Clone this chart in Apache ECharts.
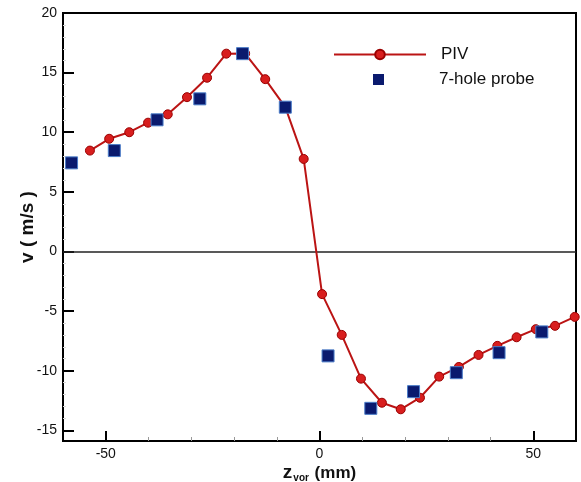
<!DOCTYPE html>
<html>
<head>
<meta charset="utf-8">
<script src="https://cdn.jsdelivr.net/npm/echarts@6/dist/echarts.min.js"></script>
<style>
  html, body { margin: 0; padding: 0; background: #fff; }
  #chart { width: 581px; height: 482px; }
</style>
</head>
<body>
<div id="chart"></div>
<script>
// PIV profile across the vortex (z in mm, v in m/s)
const pivZ = [-53.7, -49.2, -44.5, -40.1, -35.5, -31.0, -26.3, -21.8, -17.4, -12.7, -8.0, -3.7,
              0.6, 5.2, 9.7, 14.6, 19.0, 23.5, 28.0, 32.6, 37.2, 41.6, 46.1, 50.6, 55.1, 59.7];
const pivV = [8.46, 9.45, 10.0, 10.8, 11.5, 12.94, 14.57, 16.59, 16.6, 14.45, 12.1, 7.76,
              -3.58, -7.0, -10.67, -12.69, -13.24, -12.27, -10.5, -9.69, -8.68, -7.92, -7.2, -6.52, -6.24, -5.49];

// 7-hole probe measurements
const probeZ = [-58, -48, -38, -28, -18, -8, 2, 12, 22, 32, 42, 52];
const probeV = [7.43, 8.46, 11.04, 12.8, 16.59, 12.1, -8.76, -13.16, -11.76, -10.17, -8.49, -6.75];

// Tick positions
const xMajorTicks = [-50, 0, 50];
const xMinorTicks = [-40, -30, -20, -10, 10, 20, 30, 40];
const yMajorTicks = [-15, -10, -5, 0, 5, 10, 15, 20];
const yMinorTicks = [];
for (let v = -15; v <= 20; v++) { if (v % 5 !== 0) yMinorTicks.push(v); }

const FONT = "'Liberation Sans', Arial, Helvetica, sans-serif";
const PROBE_COLOR = '#0a1a6e';

const pivData = pivZ.map((z, i) => [z, pivV[i]]);
const probeData = probeZ.map((z, i) => [z, probeV[i]]);

const chart = echarts.init(document.getElementById('chart'), null, { renderer: 'canvas' });

const xBase = { type: 'value', min: -60, max: 60, gridIndex: 0, position: 'bottom', splitLine: { show: false } };
const yBase = { type: 'value', min: -15.9, max: 20, gridIndex: 0, position: 'left', splitLine: { show: false } };

chart.setOption({
  animation: false,
  backgroundColor: '#fff',
  textStyle: { fontFamily: FONT },
  grid: {
    left: 63, right: 5, top: 13, bottom: 41,
    outerBoundsMode: 'none',
    containLabel: false,
    show: true, borderColor: '#000', borderWidth: 2, backgroundColor: 'transparent'
  },
  legend: [
    {
      data: ['PIV'],
      left: 328, top: 41,
      itemWidth: 92, itemHeight: 12,
      selectedMode: false,
      textStyle: { fontFamily: FONT, fontSize: 17, color: '#111', padding: [0, 0, 0, 10] }
    },
    {
      data: [{ name: '7-hole probe', icon: 'rect', itemStyle: { color: PROBE_COLOR, borderWidth: 0 } }],
      left: 368, top: 66,
      itemWidth: 11, itemHeight: 11,
      selectedMode: false,
      textStyle: { fontFamily: FONT, fontSize: 17, color: '#111', padding: [0, 0, 0, 50] }
    }
  ],
  xAxis: [
    Object.assign({}, xBase, {
      name: '{z|z}{s|vor}{n| (mm)}',
      nameLocation: 'middle',
      nameGap: 22,
      nameMoveOverlap: false,
      nameTextStyle: {
        rich: {
          z: { fontFamily: FONT, fontSize: 19, fontWeight: 'bold', color: '#111', lineHeight: 20 },
          s: { fontFamily: FONT, fontSize: 10, fontWeight: 'bold', color: '#111', verticalAlign: 'bottom', lineHeight: 20, padding: [0, 1, 0, 1] },
          n: { fontFamily: FONT, fontSize: 17, fontWeight: 'bold', color: '#111', lineHeight: 20 }
        }
      },
      axisLine: { show: true, onZero: false, lineStyle: { color: '#000', width: 2 } },
      axisTick: { show: true, inside: true, length: 10, customValues: xMajorTicks, lineStyle: { color: '#000', width: 2 } },
      axisLabel: { show: true, customValues: xMajorTicks, margin: 6, fontFamily: FONT, fontSize: 14, color: '#111' }
    }),
    Object.assign({}, xBase, {
      axisLine: { show: false, onZero: false },
      axisTick: { show: true, inside: true, length: 4, customValues: xMinorTicks, lineStyle: { color: '#999', width: 1 } },
      axisLabel: { show: false }
    })
  ],
  yAxis: [
    Object.assign({}, yBase, {
      name: 'v ( m/s )',
      nameLocation: 'middle',
      nameGap: 26,
      nameMoveOverlap: false,
      nameTextStyle: { fontFamily: FONT, fontSize: 19, fontWeight: 'bold', color: '#111' },
      axisLine: { show: true, onZero: false, lineStyle: { color: '#000', width: 2 } },
      axisTick: { show: true, inside: true, length: 11, customValues: yMajorTicks, lineStyle: { color: '#000', width: 2 } },
      axisLabel: { show: true, customValues: yMajorTicks, margin: 6, fontFamily: FONT, fontSize: 14, color: '#111' }
    }),
    Object.assign({}, yBase, {
      axisLine: { show: false, onZero: false },
      axisTick: { show: true, inside: true, length: 3, customValues: yMinorTicks, lineStyle: { color: '#d8d8d8', width: 1 } },
      axisLabel: { show: false }
    })
  ],
  series: [
    {
      name: 'PIV',
      type: 'line',
      xAxisIndex: 0,
      yAxisIndex: 0,
      data: pivData,
      symbol: 'circle',
      symbolSize: 9,
      clip: false,
      lineStyle: { color: '#bb1414', width: 2 },
      itemStyle: { color: '#d81e1e', borderColor: '#9a0000', borderWidth: 1 },
      markLine: {
        silent: true,
        symbol: 'none',
        label: { show: false },
        lineStyle: { color: '#222', width: 1.5, type: 'solid' },
        data: [{ yAxis: 0 }],
        z: 1
      },
      z: 3
    },
    {
      name: '7-hole probe',
      type: 'scatter',
      xAxisIndex: 0,
      yAxisIndex: 0,
      data: probeData,
      symbol: 'rect',
      symbolSize: 12,
      clip: false,
      itemStyle: { color: PROBE_COLOR, borderColor: '#4a7cc8', borderWidth: 1, opacity: 1 },
      z: 4
    }
  ]
});
</script>
</body>
</html>
